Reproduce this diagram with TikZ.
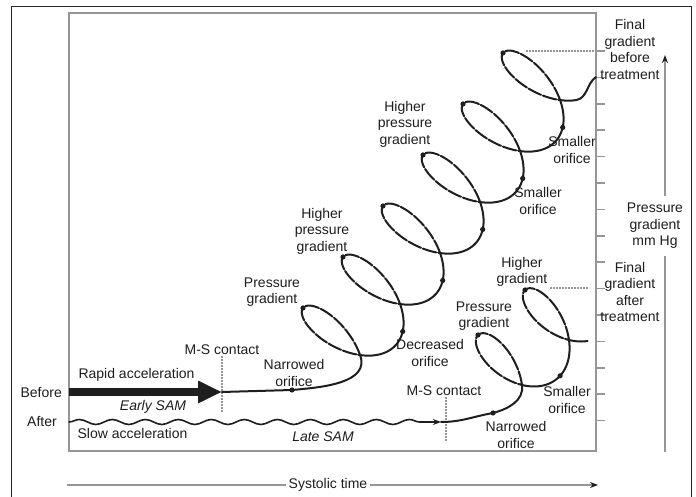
\documentclass[tikz,border=0pt]{standalone}
\usepackage{fontspec}
\setmainfont{Liberation Sans}
\usetikzlibrary{arrows.meta, decorations.pathmorphing}
\definecolor{framegray}{RGB}{150,150,150}
\definecolor{inkgray}{RGB}{30,30,30}

\begin{document}
\begin{tikzpicture}[x=1pt, y=1pt,
  every node/.style={font=\fontsize{14}{16.5}\selectfont, align=center,
                     inner sep=1pt, text=inkgray},
  ital/.style={font=\fontsize{14}{16.5}\selectfont\itshape},
  spiral/.style={line width=2pt, draw=inkgray, line cap=round, line join=round},
  loopline/.style={spiral, dash pattern=on 14pt off 2pt},
  guide/.style={draw=framegray, line width=1.2pt, dash pattern=on 1.6pt off 1.4pt},
  frame/.style={draw=framegray, line width=2.5pt},
  axis/.style={draw=framegray, line width=1.5pt},
  tip/.style={-{Stealth[length=8pt, width=6pt, inkgray]}},
  declare function={sx(\s,\p,\q)=(\s-2.5498*sin(\s r))*\p/6.2832+cos(\s r)*\q;}
]

%--- Frames ---
\fill[white] (0,0) rectangle (696,497);
\useasboundingbox (0,0) rectangle (696,497);
\draw[black!85, line width=1pt] (11,-2) |- (691,490) -- (691,-2);
\draw[frame] (69,46) rectangle (596,484);
\foreach \i in {0,...,14}
  \draw[axis] (597,{446-26.4*\i}) -- ++(8,0);

%--- Axes ---
\node[inner xsep=3pt] (systolic) at (328,12) {Systolic time};
\coordinate (tstart) at (67,12);
\coordinate (tend) at (598,12);
\draw[axis] (tstart) -- (systolic);
\draw[axis, tip] (systolic) -- (tend);

\node[inner ysep=7pt] (pgrad) at (655,271) {Pressure\\gradient\\mm Hg};
\coordinate (ptop) at (665,442);
\coordinate (pbot) at (665,45);
\draw[axis] (pbot) -- (pbot |- pgrad.south);
\draw[axis, tip] (ptop |- pgrad.north) -- (ptop);

%--- Right labels ---
\node (fgbefore) at (630,447.5) {Final\\gradient\\before\\treatment};
\node (fgafter)  at (630,205)   {Final\\gradient\\after\\treatment};
\coordinate (gb1) at (526,446);
\coordinate (gb2) at (594,446);
\draw[guide] (gb1) -- (gb2);
\coordinate (ga1) at (550,209);
\coordinate (ga2) at (589,209);
\draw[guide] (ga1) -- (ga2);

%--- Before / after ---
\node[anchor=east] (before) at (63,104) {Before};
\node[anchor=east] (after)  at (58,75)  {After};
\node (rapid) at (136.5,122) {Rapid acceleration};
\node[ital] (early) at (153,90) {Early SAM};
\node (slow)  at (132.5,64) {Slow acceleration};
\node[ital] (late)  at (323,60) {Late SAM};

\coordinate (before0) at (69,105);
\coordinate (arr1) at (222,105);
\draw[line width=8pt, inkgray, -{Triangle[length=24pt, width=21pt]}] (before0) -- (arr1);

\coordinate (after0) at (69,75);
\coordinate (arr2) at (441,75);
\draw[spiral, line width=1.6pt, tip, decorate,
      decoration={snake, amplitude=2.5pt, segment length=33pt, post length=8pt}]
  (after0) -- (arr2);

\node (msc1) at (222,147) {M-S contact};
\coordinate (msb1) at (222,85);
\draw[guide] (msc1.south -| msb1) -- (msb1);
\node (msc2) at (444,106) {M-S contact};
\coordinate (msb2) at (446,55);
\draw[guide] (msc2.south -| msb2) -- (msb2);

%--- Spiral before treatment ---
\coordinate (no1) at (292,107);
\coordinate (c10) at (360.09,141.92);
\coordinate (end1) at (596,420);
\draw[spiral] (arr1) -- (no1) to[out=5, in=-70] (c10);
\fill[inkgray] (no1) circle (2.6pt);

\begin{scope}[shift={(340.03,158.46)}]
  \foreach \n in {0,...,5}{
    \draw[loopline, shift={(40*\n,51*\n)}]
      plot[domain=-2.1433:2.1433, samples=60] ({sx(\x,40,-37.03)},{sx(\x,51,30.54)});
    \fill[inkgray] ({40*\n-37.03},{51*\n+30.54}) circle (2.6pt);
  }
  \foreach \n in {0,...,4}{
    \draw[spiral, shift={(40*\n,51*\n)}]
      plot[domain=2.1433:4.1399, samples=30] ({sx(\x,40,-37.03)},{sx(\x,51,30.54)});
    \fill[inkgray] ({sx(3.5,40,-37.03)+40*\n},{sx(3.5,51,30.54)+51*\n}) circle (2.6pt);
  }
  \draw[spiral, shift={(200,255)}]
    plot[domain=2.1433:2.5, samples=10] ({sx(\x,40,-37.03)},{sx(\x,51,30.54)})
    to[out=9, in=215] (end1);
\end{scope}

\node (pg1)  at (272,205) {Pressure\\gradient};
\node (hpg1) at (322,266) {Higher\\pressure\\gradient};
\node (hpg2) at (405,373) {Higher\\pressure\\gradient};
\node (nar1) at (294,124) {Narrowed\\orifice};
\node (dec)  at (430,144) {Decreased\\orifice};
\node (sm1)  at (538,296) {Smaller\\orifice};
\node (sm2)  at (572,347) {Smaller\\orifice};

%--- Spiral after treatment ---
\coordinate (no2) at (493,84);
\coordinate (c20) at (522.0,112.0);
\draw[spiral] (arr2) to[out=0, in=190] (no2) to[out=15, in=-82] (c20);
\fill[inkgray] (no2) circle (2.6pt);

\begin{scope}[shift={(506.54,129.57)}]
  \foreach \n in {0,1}{
    \draw[loopline, shift={(47*\n,45*\n)}]
      plot[domain=-2.1433:2.1433, samples=60] ({sx(\x,47,-28.54)},{sx(\x,45,32.43)});
    \fill[inkgray] ({47*\n-28.54},{45*\n+32.43}) circle (2.6pt);
  }
  \draw[spiral]
    plot[domain=2.1433:4.1399, samples=30] ({sx(\x,47,-28.54)},{sx(\x,45,32.43)});
  \fill[inkgray] ({sx(3.2,47,-28.54)},{sx(3.2,45,32.43)}) circle (2.6pt);
  \draw[spiral, shift={(47,45)}]
    plot[domain=2.1433:2.6, samples=10] ({sx(\x,47,-28.54)},{sx(\x,45,32.43)});
\end{scope}

\node (pg2)  at (484,181) {Pressure\\gradient};
\node (hg)   at (522,225) {Higher\\gradient};
\node (nar2) at (516,62)  {Narrowed\\orifice};
\node (sm3)  at (567,97)  {Smaller\\orifice};

\end{tikzpicture}
\end{document}
